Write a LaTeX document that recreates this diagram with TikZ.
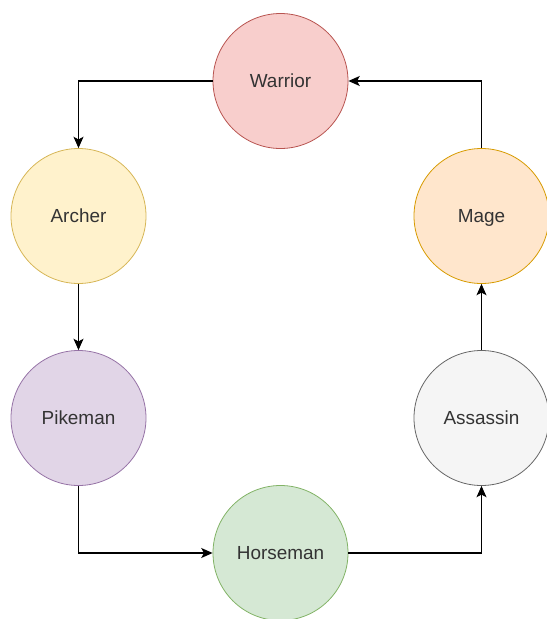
\documentclass[tikz,border=0pt]{standalone}
\usepackage{fontspec}
\setmainfont{Liberation Sans}
\usetikzlibrary{arrows.meta}
\definecolor{txt}{HTML}{333333}
\definecolor{redF}{HTML}{F8CECC}\definecolor{redD}{HTML}{B85450}
\definecolor{yelF}{HTML}{FFF2CC}\definecolor{yelD}{HTML}{D6B656}
\definecolor{orgF}{HTML}{FFE6CC}\definecolor{orgD}{HTML}{D79B00}
\definecolor{purF}{HTML}{E1D5E7}\definecolor{purD}{HTML}{9673A6}
\definecolor{gryF}{HTML}{F5F5F5}\definecolor{gryD}{HTML}{666666}
\definecolor{grnF}{HTML}{D5E8D4}\definecolor{grnD}{HTML}{82B366}
\tikzset{
  unit/.style={circle, minimum size=101.25pt, inner sep=0pt, line width=0.6pt, text=txt,
    font=\fontsize{14.2pt}{16pt}\selectfont, text height=1em, text depth=0pt},
  conn/.style={line width=0.8pt, -{Stealth[length=8.5pt, width=7.5pt, inset=2pt]}}
}
\begin{document}
\begin{tikzpicture}[x=0.75pt, y=-0.75pt]
\useasboundingbox (0,0) rectangle (547,619);
\node[unit, fill=redF, draw=redD] (warrior) at (280.5,81) {Warrior};
\node[unit, fill=yelF, draw=yelD] (archer) at (78.5,216) {Archer};
\node[unit, fill=orgF, draw=orgD] (mage) at (481.5,216) {Mage};
\node[unit, fill=purF, draw=purD] (pikeman) at (78.5,418) {Pikeman};
\node[unit, fill=gryF, draw=gryD] (assassin) at (481.5,418) {Assassin};
\node[unit, fill=grnF, draw=grnD] (horseman) at (280.5,553) {Horseman};
\draw[conn] (warrior.west) -| (archer.north);
\draw[conn] (archer.south) -- (pikeman.north);
\draw[conn] (pikeman.south) |- (horseman.west);
\draw[conn] (horseman.east) -| (assassin.south);
\draw[conn] (assassin.north) -- (mage.south);
\draw[conn] (mage.north) |- (warrior.east);
\end{tikzpicture}
\end{document}
